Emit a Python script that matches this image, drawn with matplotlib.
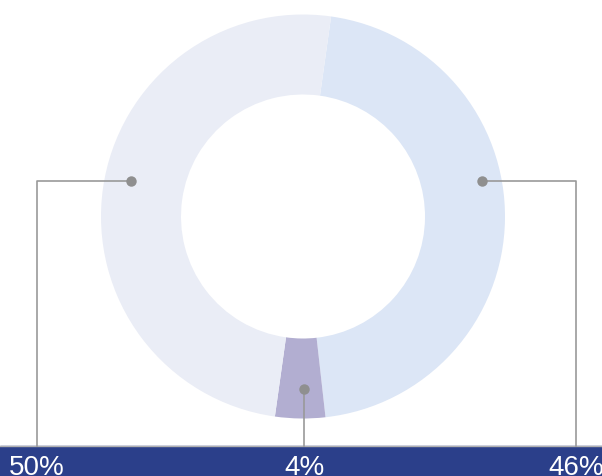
import matplotlib.pyplot as plt
import numpy as np

# chart data
labels = ['46%', '4%', '50%']
values = [46, 4, 50]
colors = ['#dce6f6', '#b2aed1', '#eaedf6']

W, H = 602, 477
cx, cy = 303, H - 217.5
r_out, r_in = 202, 122
start = 8  # degrees clockwise from 12 o'clock

fig = plt.figure(figsize=(W / 100, H / 100), dpi=100)
ax = fig.add_axes([0, 0, 1, 1])
ax.pie(values, colors=colors, center=(cx, cy), radius=r_out,
       startangle=90 - start, counterclock=False, frame=True,
       wedgeprops=dict(width=r_out - r_in, linewidth=0))
ax.set_xlim(0, W)
ax.set_ylim(0, H)
ax.set_aspect('equal')
ax.axis('off')

# bottom band
bar_top = H - 447
ax.add_patch(plt.Rectangle((0, 0), W, bar_top, color='#2b3f8a', zorder=3))
ax.plot([0, W], [bar_top, bar_top], color='#b0b0b0', lw=1, zorder=4)

# leader lines: (dot x, dot y, label x)
anchors = {'46%': (482, H - 182, 576), '4%': (304, H - 390, 304), '50%': (131, H - 182, 37)}
line_c = '#999999'
for lab in labels:
    dx, dy, lx = anchors[lab]
    ax.plot([dx, lx, lx], [dy, dy, bar_top], color=line_c, lw=1.2, zorder=5)
    ax.plot(dx, dy, 'o', ms=7.5, color='#8f8f8f', mec='none', zorder=6)
    ax.text(lx, 1.5, lab, color='white', ha='center', va='baseline',
            fontsize=20, family='Liberation Sans', zorder=7)

fig.savefig('out.png', dpi=100)
